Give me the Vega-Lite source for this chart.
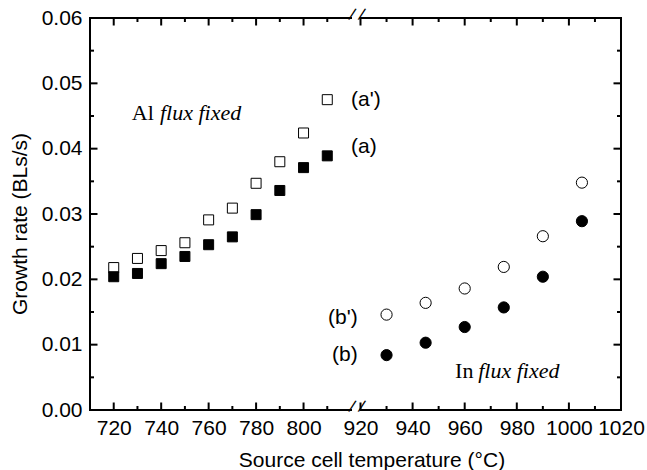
{
  "$schema": "https://vega.github.io/schema/vega-lite/v6.json",
  "width": 531,
  "height": 392,
  "autosize": "none",
  "padding": {"left": 90, "top": 18, "right": 26, "bottom": 60},
  "background": "white",
  "config": {
    "view": {"stroke": null, "fill": null},
    "axis": {
      "grid": false,
      "domain": false,
      "ticks": false,
      "labelFont": "Liberation Sans",
      "labelFontSize": 21,
      "labelColor": "black",
      "titleFont": "Liberation Sans",
      "titleFontSize": 21,
      "titleFontWeight": "normal",
      "titleColor": "black"
    }
  },
  "datasets": {
    "pts": [
      {"temp": 720, "rate": 0.0218, "series": "a'"},
      {"temp": 730, "rate": 0.0232, "series": "a'"},
      {"temp": 740, "rate": 0.0244, "series": "a'"},
      {"temp": 750, "rate": 0.0256, "series": "a'"},
      {"temp": 760, "rate": 0.0291, "series": "a'"},
      {"temp": 770, "rate": 0.0309, "series": "a'"},
      {"temp": 780, "rate": 0.0347, "series": "a'"},
      {"temp": 790, "rate": 0.0380, "series": "a'"},
      {"temp": 800, "rate": 0.0424, "series": "a'"},
      {"temp": 810, "rate": 0.0475, "series": "a'"},
      {"temp": 720, "rate": 0.0204, "series": "a"},
      {"temp": 730, "rate": 0.0209, "series": "a"},
      {"temp": 740, "rate": 0.0224, "series": "a"},
      {"temp": 750, "rate": 0.0235, "series": "a"},
      {"temp": 760, "rate": 0.0253, "series": "a"},
      {"temp": 770, "rate": 0.0265, "series": "a"},
      {"temp": 780, "rate": 0.0299, "series": "a"},
      {"temp": 790, "rate": 0.0336, "series": "a"},
      {"temp": 800, "rate": 0.0371, "series": "a"},
      {"temp": 810, "rate": 0.0389, "series": "a"},
      {"temp": 930, "rate": 0.0146, "series": "b'"},
      {"temp": 945, "rate": 0.0164, "series": "b'"},
      {"temp": 960, "rate": 0.0186, "series": "b'"},
      {"temp": 975, "rate": 0.0219, "series": "b'"},
      {"temp": 990, "rate": 0.0266, "series": "b'"},
      {"temp": 1005, "rate": 0.0348, "series": "b'"},
      {"temp": 930, "rate": 0.0084, "series": "b"},
      {"temp": 945, "rate": 0.0103, "series": "b"},
      {"temp": 960, "rate": 0.0127, "series": "b"},
      {"temp": 975, "rate": 0.0157, "series": "b"},
      {"temp": 990, "rate": 0.0204, "series": "b"},
      {"temp": 1005, "rate": 0.0289, "series": "b"}
    ],
    "labels": [
      {"t": "(a')", "temp": 820.3, "rate": 0.04745},
      {"t": "(a)", "temp": 820.8, "rate": 0.04018},
      {"t": "(b')", "temp": 810.3, "rate": 0.01408},
      {"t": "(b)", "temp": 812.0, "rate": 0.00842}
    ],
    "roman": [
      {"t": "Al", "temp": 727.6, "rate": 0.04439},
      {"t": "In", "temp": 956.3, "rate": 0.00485}
    ],
    "italic": [
      {"t": "flux fixed", "temp": 739.5, "rate": 0.04439},
      {"t": "flux fixed", "temp": 965.2, "rate": 0.00485}
    ],
    "frameh": [
      {"t1": 710, "t2": 820, "r": 0},
      {"t1": 920, "t2": 1020, "r": 0},
      {"t1": 710, "t2": 820, "r": 0.06},
      {"t1": 920, "t2": 1020, "r": 0.06}
    ],
    "framev": [
      {"t": 710},
      {"t": 1020}
    ],
    "xticks": [
      {"temp": 720, "kind": "major"}, {"temp": 730, "kind": "minor"},
      {"temp": 740, "kind": "major"}, {"temp": 750, "kind": "minor"},
      {"temp": 760, "kind": "major"}, {"temp": 770, "kind": "minor"},
      {"temp": 780, "kind": "major"}, {"temp": 790, "kind": "minor"},
      {"temp": 800, "kind": "major"}, {"temp": 810, "kind": "minor"},
      {"temp": 920, "kind": "major"}, {"temp": 930, "kind": "minor"},
      {"temp": 940, "kind": "major"}, {"temp": 950, "kind": "minor"},
      {"temp": 960, "kind": "major"}, {"temp": 970, "kind": "minor"},
      {"temp": 980, "kind": "major"}, {"temp": 990, "kind": "minor"},
      {"temp": 1000, "kind": "major"}, {"temp": 1010, "kind": "minor"}
    ],
    "yticks": [
      {"rate": 0.005, "kind": "minor"}, {"rate": 0.01, "kind": "major"},
      {"rate": 0.015, "kind": "minor"}, {"rate": 0.02, "kind": "major"},
      {"rate": 0.025, "kind": "minor"}, {"rate": 0.03, "kind": "major"},
      {"rate": 0.035, "kind": "minor"}, {"rate": 0.04, "kind": "major"},
      {"rate": 0.045, "kind": "minor"}, {"rate": 0.05, "kind": "major"},
      {"rate": 0.055, "kind": "minor"}
    ],
    "slashes": [
      {"temp": 820, "rate": 0},
      {"temp": 920, "rate": 0},
      {"temp": 820, "rate": 0.06},
      {"temp": 920, "rate": 0.06}
    ]
  },
  "resolve": {"axis": {"x": "independent", "y": "independent"}},
  "layer": [
    {
      "data": {"name": "frameh"},
      "mark": {"type": "rule", "color": "black", "strokeWidth": 2, "strokeCap": "square"},
      "encoding": {
        "x": {
          "field": "t1", "type": "quantitative",
          "scale": {"type": "linear", "domain": [712.919, 820, 920, 1017.081], "range": [0, 261, 270.5, 531], "zero": false, "nice": false},
          "axis": {
            "orient": "bottom",
            "values": [720, 740, 760, 780, 800, 920, 940, 960, 980, 1000, 1020],
            "format": "d",
            "labelOverlap": false,
            "labelFlush": false,
            "labelPadding": 7,
            "title": "Source cell temperature (°C)",
            "titleX": 281.5,
            "titleY": 56,
            "titleAlign": "center",
            "titleBaseline": "alphabetic"
          }
        },
        "x2": {"field": "t2"},
        "y": {
          "field": "r", "type": "quantitative",
          "scale": {"domain": [0, 0.06], "zero": false, "nice": false},
          "axis": {
            "orient": "left",
            "values": [0, 0.01, 0.02, 0.03, 0.04, 0.05, 0.06],
            "format": ".2f",
            "labelOverlap": false,
            "labelFlush": false,
            "labelPadding": 8,
            "title": "Growth rate (BLs/s)",
            "titleX": -64,
            "titleY": 205.5,
            "titleAlign": "center",
            "titleBaseline": "alphabetic"
          }
        }
      }
    },
    {
      "data": {"name": "framev"},
      "mark": {"type": "bar", "color": "black", "width": 2},
      "encoding": {
        "x": {"field": "t", "type": "quantitative", "scale": {"type": "linear", "domain": [712.919, 820, 920, 1017.081], "range": [0, 261, 270.5, 531], "zero": false, "nice": false}, "axis": null},
        "y": {"datum": 0, "type": "quantitative", "scale": {"domain": [0, 0.06], "zero": false, "nice": false}, "axis": null},
        "y2": {"datum": 0.06}
      }
    },
    {
      "data": {"name": "xticks"},
      "mark": {"type": "tick", "orient": "vertical", "thickness": 2, "color": "black", "opacity": 1, "clip": true},
      "encoding": {
        "x": {"field": "temp", "type": "quantitative", "scale": {"type": "linear", "domain": [712.919, 820, 920, 1017.081], "range": [0, 261, 270.5, 531], "zero": false, "nice": false}, "axis": null},
        "y": {"datum": 0, "type": "quantitative", "scale": {"domain": [0, 0.06], "zero": false, "nice": false}, "axis": null},
        "size": {"field": "kind", "type": "nominal", "scale": {"domain": ["major", "minor"], "range": [15, 8]}, "legend": null}
      }
    },
    {
      "data": {"name": "xticks"},
      "mark": {"type": "tick", "orient": "vertical", "thickness": 2, "color": "black", "opacity": 1, "clip": true},
      "encoding": {
        "x": {"field": "temp", "type": "quantitative", "scale": {"type": "linear", "domain": [712.919, 820, 920, 1017.081], "range": [0, 261, 270.5, 531], "zero": false, "nice": false}, "axis": null},
        "y": {"datum": 0.06, "type": "quantitative", "scale": {"domain": [0, 0.06], "zero": false, "nice": false}, "axis": null},
        "size": {"field": "kind", "type": "nominal", "scale": {"domain": ["major", "minor"], "range": [15, 8]}, "legend": null}
      }
    },
    {
      "data": {"name": "yticks"},
      "mark": {"type": "tick", "orient": "horizontal", "thickness": 2, "color": "black", "opacity": 1, "clip": true},
      "encoding": {
        "x": {"datum": 710, "type": "quantitative", "scale": {"type": "linear", "domain": [712.919, 820, 920, 1017.081], "range": [0, 261, 270.5, 531], "zero": false, "nice": false}, "axis": null},
        "y": {"field": "rate", "type": "quantitative", "scale": {"domain": [0, 0.06], "zero": false, "nice": false}, "axis": null},
        "size": {"field": "kind", "type": "nominal", "scale": {"domain": ["major", "minor"], "range": [15, 8]}, "legend": null}
      }
    },
    {
      "data": {"name": "yticks"},
      "mark": {"type": "tick", "orient": "horizontal", "thickness": 2, "color": "black", "opacity": 1, "clip": true},
      "encoding": {
        "x": {"datum": 1020, "type": "quantitative", "scale": {"type": "linear", "domain": [712.919, 820, 920, 1017.081], "range": [0, 261, 270.5, 531], "zero": false, "nice": false}, "axis": null},
        "y": {"field": "rate", "type": "quantitative", "scale": {"domain": [0, 0.06], "zero": false, "nice": false}, "axis": null},
        "size": {"field": "kind", "type": "nominal", "scale": {"domain": ["major", "minor"], "range": [15, 8]}, "legend": null}
      }
    },
    {
      "data": {"name": "pts"},
      "transform": [{"filter": "datum.series === 'a' || datum.series === \"a'\""}],
      "mark": {"type": "point", "shape": "square", "size": 100, "filled": true, "stroke": "black", "strokeWidth": 1, "opacity": 1},
      "encoding": {
        "x": {"field": "temp", "type": "quantitative", "scale": {"type": "linear", "domain": [712.919, 820, 920, 1017.081], "range": [0, 261, 270.5, 531], "zero": false, "nice": false}, "axis": null},
        "y": {"field": "rate", "type": "quantitative", "scale": {"domain": [0, 0.06], "zero": false, "nice": false}, "axis": null},
        "fill": {"field": "series", "type": "nominal", "scale": {"domain": ["a", "a'", "b", "b'"], "range": ["black", "white", "black", "white"]}, "legend": null}
      }
    },
    {
      "data": {"name": "pts"},
      "transform": [{"filter": "datum.series === 'b' || datum.series === \"b'\""}],
      "mark": {"type": "point", "shape": "circle", "size": 125, "filled": true, "stroke": "black", "strokeWidth": 1, "opacity": 1},
      "encoding": {
        "x": {"field": "temp", "type": "quantitative", "scale": {"type": "linear", "domain": [712.919, 820, 920, 1017.081], "range": [0, 261, 270.5, 531], "zero": false, "nice": false}, "axis": null},
        "y": {"field": "rate", "type": "quantitative", "scale": {"domain": [0, 0.06], "zero": false, "nice": false}, "axis": null},
        "fill": {"field": "series", "type": "nominal", "scale": {"domain": ["a", "a'", "b", "b'"], "range": ["black", "white", "black", "white"]}, "legend": null}
      }
    },
    {
      "data": {"name": "slashes"},
      "mark": {"type": "text", "text": "/", "font": "Liberation Sans", "fontSize": 17, "angle": 18, "align": "center", "baseline": "middle", "dy": -3, "color": "black"},
      "encoding": {
        "x": {"field": "temp", "type": "quantitative", "scale": {"type": "linear", "domain": [712.919, 820, 920, 1017.081], "range": [0, 261, 270.5, 531], "zero": false, "nice": false}, "axis": null},
        "y": {"field": "rate", "type": "quantitative", "scale": {"domain": [0, 0.06], "zero": false, "nice": false}, "axis": null}
      }
    },
    {
      "data": {"name": "labels"},
      "mark": {"type": "text", "font": "Liberation Sans", "fontSize": 21, "align": "left", "baseline": "middle", "color": "black"},
      "encoding": {
        "x": {"field": "temp", "type": "quantitative", "scale": {"type": "linear", "domain": [712.919, 820, 920, 1017.081], "range": [0, 261, 270.5, 531], "zero": false, "nice": false}, "axis": null},
        "y": {"field": "rate", "type": "quantitative", "scale": {"domain": [0, 0.06], "zero": false, "nice": false}, "axis": null},
        "text": {"field": "t"}
      }
    },
    {
      "data": {"name": "roman"},
      "mark": {"type": "text", "font": "Liberation Serif", "fontSize": 22, "align": "left", "baseline": "alphabetic", "color": "black"},
      "encoding": {
        "x": {"field": "temp", "type": "quantitative", "scale": {"type": "linear", "domain": [712.919, 820, 920, 1017.081], "range": [0, 261, 270.5, 531], "zero": false, "nice": false}, "axis": null},
        "y": {"field": "rate", "type": "quantitative", "scale": {"domain": [0, 0.06], "zero": false, "nice": false}, "axis": null},
        "text": {"field": "t"}
      }
    },
    {
      "data": {"name": "italic"},
      "mark": {"type": "text", "font": "Liberation Serif", "fontSize": 22, "fontStyle": "italic", "align": "left", "baseline": "alphabetic", "color": "black"},
      "encoding": {
        "x": {"field": "temp", "type": "quantitative", "scale": {"type": "linear", "domain": [712.919, 820, 920, 1017.081], "range": [0, 261, 270.5, 531], "zero": false, "nice": false}, "axis": null},
        "y": {"field": "rate", "type": "quantitative", "scale": {"domain": [0, 0.06], "zero": false, "nice": false}, "axis": null},
        "text": {"field": "t"}
      }
    }
  ]
}
